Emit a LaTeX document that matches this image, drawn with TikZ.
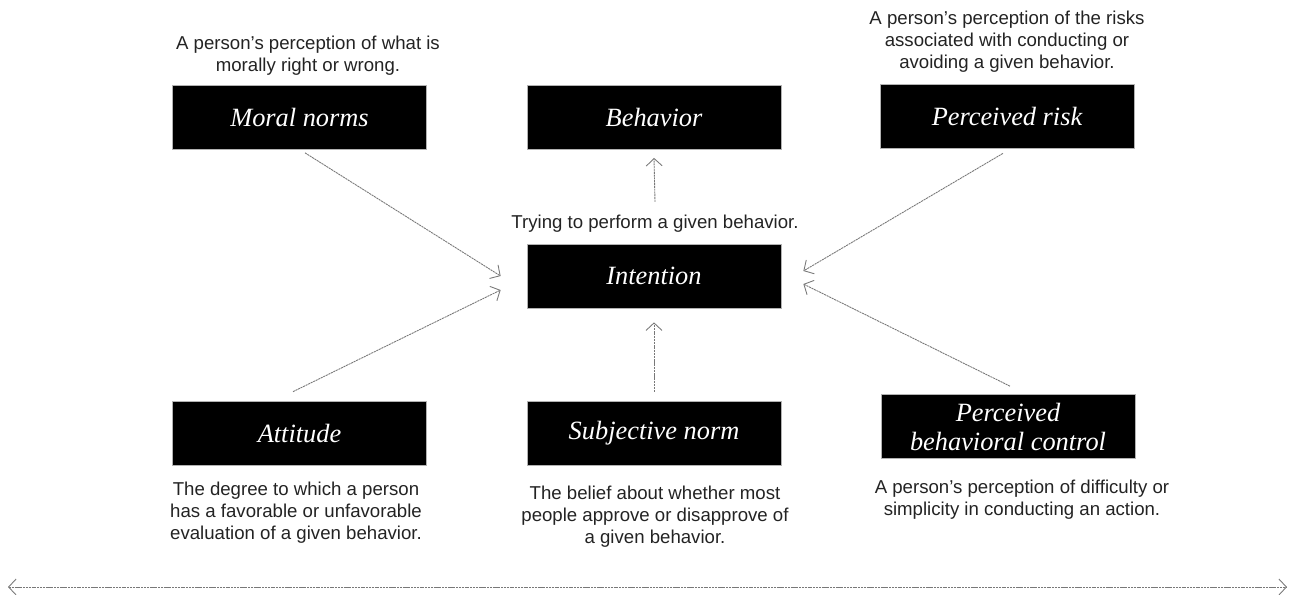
\documentclass[tikz,border=0pt]{standalone}
\usepackage{fontspec}
\setmainfont{Liberation Serif}
\setsansfont{Liberation Sans}
\usetikzlibrary{arrows.meta,positioning,calc}
\definecolor{boxblk}{RGB}{0,0,0}
\definecolor{linegray}{RGB}{120,120,120}
\definecolor{txtdark}{RGB}{35,35,35}
\tikzset{
  cbox/.style={draw=gray!60, fill=boxblk, text=white, minimum width=5.08cm, minimum height=1.28cm,
               inner sep=2pt, align=center, font=\fontsize{15}{16.5}\selectfont\itshape},
  desc/.style={text=txtdark, align=center, inner sep=0pt, font=\sffamily\fontsize{10.6}{12.5}\selectfont},
  conn/.style={-{Straight Barb[length=1.5mm, width=3.2mm]}, linegray, line width=0.5pt,
               dash pattern=on 1.2pt off 0.4pt},
  axis/.style={{Straight Barb[length=1.5mm, width=3.2mm]}-{Straight Barb[length=1.5mm, width=3.2mm]},
               linegray, line width=0.5pt, dash pattern=on 1.2pt off 0.4pt},
}

\begin{document}
\begin{tikzpicture}
        \useasboundingbox (0,0) rectangle (25.88,-11.88);
        % boxes
        \node[cbox] (moral) at (5.99,-2.35) {Moral norms};
        \node[cbox] (behav) at (13.08,-2.35) {Behavior};
        \node[cbox] (risk) at (20.14,-2.32) {Perceived risk};
        \node[cbox] (inten) at (13.08,-5.52) {Intention};
        \node[cbox] (attit) at (5.99,-8.66) {Attitude};
        \node[cbox] (subj) at (13.08,-8.66) {Subjective norm};
        \node[cbox] (pbc) at (20.16,-8.53) {Perceived\\behavioral control};
        % descriptions
        \node[desc] (dmoral) at (6.16,-1.12) {A person’s perception of what is\\morally right or wrong.};
        \node[desc] (drisk) at (20.14,-0.84) {A person’s perception of the risks\\associated with conducting or\\avoiding a given behavior.};
        \node[desc] (dinten) at (13.1,-4.48) {Trying to perform a given behavior.};
        \node[desc] (dattit) at (5.92,-10.26) {The degree to which a person\\has a favorable or unfavorable\\evaluation of a given behavior.};
        \node[desc] (dsubj) at (13.1,-10.34) {The belief about whether most\\people approve or disapprove of\\a given behavior.};
        \node[desc] (dpbc) at (20.44,-10.0) {A person’s perception of difficulty or\\simplicity in conducting an action.};
        % arrows
        \draw[conn] ([xshift=1.1mm,yshift=-0.6mm]moral.south) -- ([xshift=-5.2mm]inten.west);
        \draw[conn] ([xshift=-1.3mm,yshift=1.8mm]attit.north) -- ([xshift=-5.2mm,yshift=-2.8mm]inten.west);
        \draw[conn] ([yshift=1.8mm]subj.north) -- ([yshift=-2.8mm]inten.south);
        \draw[conn] ([yshift=2.6mm]dinten.north) -- ([yshift=-1.6mm]behav.south);
        \draw[conn] ([xshift=-0.8mm,yshift=-1mm]risk.south) -- ([xshift=4.4mm,yshift=1.0mm]inten.east);
        \draw[conn] ([xshift=0.4mm,yshift=1.6mm]pbc.north) -- ([xshift=4.4mm,yshift=-1.6mm]inten.east);
        % bottom axis
        \coordinate (axl) at (0.16,-11.74);
        \coordinate (axr) at (25.74,-11.74);
        \draw[axis] (axl) -- (axr);
      \end{tikzpicture}
\end{document}
